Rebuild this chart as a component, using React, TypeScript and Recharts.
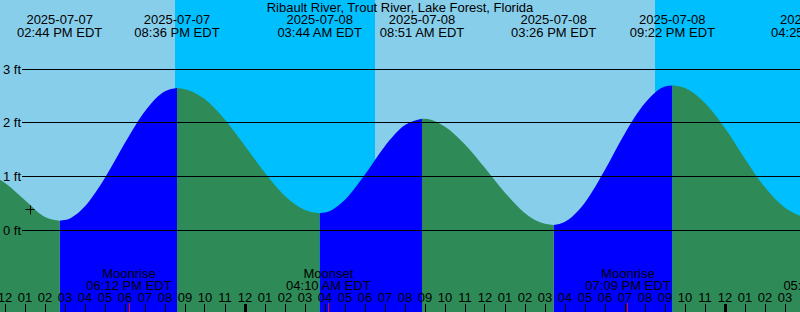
import React from "react";
import {
  ComposedChart, Area, XAxis, YAxis, ReferenceArea, ReferenceLine, ReferenceDot
} from "recharts";

// hours counted from 2025-07-07 12:00 PM EDT
const sampleHours = [
  -0.25, 0, 1, 2, 2.733, 3, 4, 5, 6, 7, 8, 8.6, 9, 10, 11, 12, 13, 14, 15, 15.733,
  16, 17, 18, 19, 20, 20.85, 21, 22, 23, 24, 25, 26, 27, 27.433, 28, 29, 30, 31, 32,
  33, 33.367, 34, 35, 36, 37, 38, 39, 39.75,
];
const sampleLevels = [
  0.94, 0.88, 0.56, 0.25, 0.18, 0.19, 0.45, 0.98, 1.63, 2.22, 2.59, 2.65, 2.63, 2.44, 2.06, 1.57, 1.07, 0.64, 0.38, 0.32,
  0.33, 0.57, 1.04, 1.57, 1.96, 2.08, 2.08, 1.93, 1.6, 1.16, 0.7, 0.32, 0.12, 0.1, 0.16, 0.52, 1.13, 1.81, 2.37,
  2.68, 2.7, 2.65, 2.37, 1.9, 1.33, 0.8, 0.42, 0.27,
];

const tideHours = [2.733, 8.6, 15.733, 20.85, 27.433, 33.367, 40.417];
const tideKinds = ["L", "H", "L", "H", "L", "H", "L"];
const tideDates = ["2025-07-07", "2025-07-07", "2025-07-08", "2025-07-08", "2025-07-08", "2025-07-08", "2025-07-09"];
const tideClocks = ["02:44 PM EDT", "08:36 PM EDT", "03:44 AM EDT", "08:51 AM EDT", "03:26 PM EDT", "09:22 PM EDT", "04:25 AM EDT"];

const moonHours = [6.2, 16.167, 31.15, 41.033];
const moonNames = ["Moonrise", "Moonset", "Moonrise", "Moonset"];
const moonClocks = ["06:12 PM EDT", "04:10 AM EDT", "07:09 PM EDT", "05:02 AM EDT"];

const nightStarts = [8.5, 32.5];
const nightEnds = [18.5, 39.75];

const levelLines = [0, 1, 2, 3];

const tickHours = Array.from({ length: 40 }, (_, i) => i);
const hourLabels = [
  "12", "01", "02", "03", "04", "05", "06", "07", "08", "09", "10", "11",
  "12", "01", "02", "03", "04", "05", "06", "07", "08", "09", "10", "11",
  "12", "01", "02", "03", "04", "05", "06", "07", "08", "09", "10", "11",
  "12", "01", "02", "03",
];
const midnightHours = [12, 36];

const nowMark = { t: 1.25, level: 0.38 };

const title = "Ribault River, Trout River, Lake Forest, Florida";

const DAY = "#87ceeb";
const NIGHT = "#00bfff";
const RISING = "#0000ff";
const FALLING = "#2e8b57";
const FONT = "'Liberation Sans', Arial, sans-serif";

const rows = sampleHours.map((t, i) => {
  const v = sampleLevels[i];
  const atEvent = tideHours.some(e => Math.abs(e - t) < 1e-6);
  let prev = -1;
  tideHours.forEach((e, k) => { if (e <= t + 1e-6) prev = k; });
  const kind = prev >= 0 ? tideKinds[prev] : (tideKinds[0] === "L" ? "H" : "L");
  const rising = kind === "L";
  return { t, level: v, rise: rising || atEvent ? v : null, fall: !rising || atEvent ? v : null };
});

const txt = { fontFamily: FONT, fontSize: 13, fill: "#000" };

export default function App() {
  return (
    <div style={{ position: "relative", width: 800, height: 312, background: DAY, overflow: "hidden" }}>
      <style>{`body{margin:0}`}</style>
      <ComposedChart width={800} height={312} data={rows} margin={{ top: 0, right: 0, bottom: 0, left: 0 }}>
        <XAxis dataKey="t" type="number" domain={[-0.25, 39.75]} allowDataOverflow hide />
        <YAxis type="number" domain={[-1.522, 4.291]} allowDataOverflow hide />
        {nightStarts.map((s, i) => (
          <ReferenceArea key={"n" + i} x1={s} x2={nightEnds[i]} fill={NIGHT} fillOpacity={1} stroke="none" />
        ))}
        <Area type="monotone" dataKey="rise" baseValue="dataMin" stroke="none" fill={RISING} fillOpacity={1}
          connectNulls={false} dot={false} activeDot={false} isAnimationActive={false} />
        <Area type="monotone" dataKey="fall" baseValue="dataMin" stroke="none" fill={FALLING} fillOpacity={1}
          connectNulls={false} dot={false} activeDot={false} isAnimationActive={false} />
        {levelLines.map(v => (
          <ReferenceLine key={"y" + v} y={v} stroke="none" label={(p: any) => {
            const vb = p.viewBox;
            const yy = Math.floor(vb.y) + 0.5;
            return (
              <g>
                <line x1={22} x2={vb.x + vb.width} y1={yy} y2={yy} stroke="#000" strokeWidth={1} />
                <text x={3} y={yy + 4} {...txt}>{v} ft</text>
              </g>
            );
          }} />
        ))}
        {tideHours.map((t, i) => (
          <ReferenceLine key={"t" + i} x={t} stroke="none" ifOverflow="visible" label={(p: any) => (
            <g>
              <text x={p.viewBox.x} y={24} textAnchor="middle" {...txt}>{tideDates[i]}</text>
              <text x={p.viewBox.x} y={36.5} textAnchor="middle" {...txt}>{tideClocks[i]}</text>
            </g>
          )} />
        ))}
        {tickHours.map((h, i) => (
          <ReferenceLine key={"h" + h} x={h} stroke="none" label={(p: any) => {
            const x = Math.floor(p.viewBox.x) + 0.5;
            const bold = midnightHours.includes(h);
            return (
              <g>
                <text x={p.viewBox.x} y={302} textAnchor="middle" {...txt}>{hourLabels[i]}</text>
                <line x1={x} x2={x} y1={304} y2={312} stroke="#000" strokeWidth={bold ? 3 : 1} />
              </g>
            );
          }} />
        ))}
        {moonHours.map((t, i) => (
          <ReferenceLine key={"m" + i} x={t} stroke="none" ifOverflow="visible" label={(p: any) => {
            const x = Math.floor(p.viewBox.x) + 0.5;
            return (
              <g>
                <text x={p.viewBox.x} y={278} textAnchor="middle" {...txt}>{moonNames[i]}</text>
                <text x={p.viewBox.x} y={290} textAnchor="middle" {...txt}>{moonClocks[i]}</text>
                <line x1={x} x2={x} y1={303} y2={312} stroke="#ff0000" strokeWidth={1} />
              </g>
            );
          }} />
        ))}
        <ReferenceDot x={nowMark.t} y={nowMark.level} shape={(p: any) => (
          <g stroke="#000" strokeWidth={1}>
            <line x1={p.cx - 4.5} x2={p.cx + 4.5} y1={Math.floor(p.cy) + 0.5} y2={Math.floor(p.cy) + 0.5} />
            <line x1={Math.floor(p.cx) + 0.5} x2={Math.floor(p.cx) + 0.5} y1={p.cy - 4.5} y2={p.cy + 4.5} />
          </g>
        )} />
      </ComposedChart>
      <svg width={800} height={20} style={{ position: "absolute", left: 0, top: 0, pointerEvents: "none" }}>
        <text x={400} y={12} textAnchor="middle" {...txt}>{title}</text>
      </svg>
    </div>
  );
}
